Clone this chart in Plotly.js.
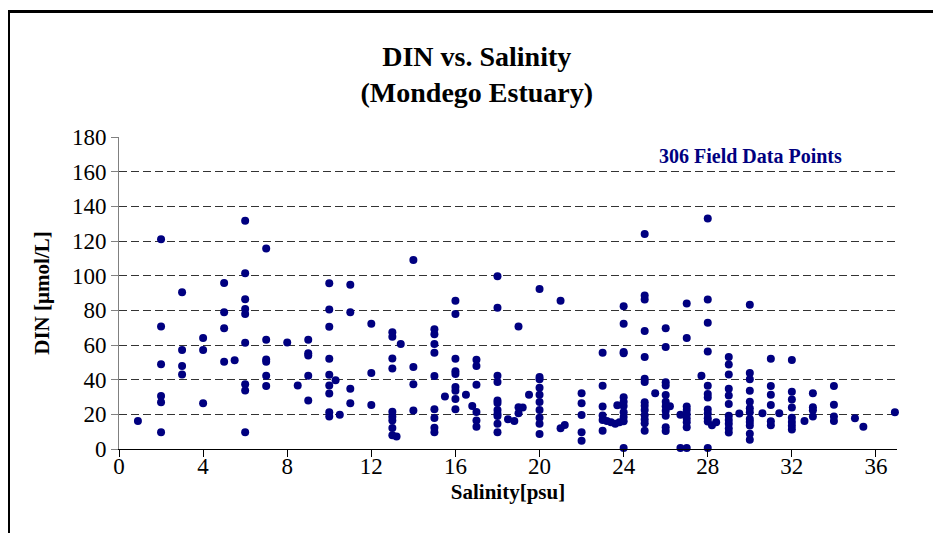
<!DOCTYPE html>
<html><head><meta charset="utf-8">
<script src="https://cdn.plot.ly/plotly-3.0.1.min.js"></script>
<style>
html,body{margin:0;padding:0;background:#fff;}
#wrap{position:relative;width:933px;height:533px;overflow:hidden;}
#chart{width:933px;height:533px;}
#frame{position:absolute;left:8px;top:10px;width:1000px;height:1000px;border-left:2px solid #000;border-top:3px solid #000;pointer-events:none;}
</style>
</head><body>
<div id="wrap"><div id="chart"></div><div id="frame"></div></div>
<script>
const salinity = [
 0.9,
 2,2,2,2,2,2,
 3,3,3,3,
 4,4,4,
 5,5,5,5,
 5.5,
 6,6,6,6,6,6,6,6,6,
 7,7,7,7,7,7,
 8,
 8.5,
 9,9,9,9,9,
 10,10,10,10,10,10,10,10,10,
 10.3,
 10.5,
 11,11,11,11,
 12,12,12,
 13,13,13,13,13,13,13,13,13,
 13.2,
 13.4,
 14,14,14,14,
 15,15,15,15,15,15,15,15,15,
 15.5,
 16,16,16,16,16,16,16,16,16,
 16.5,
 16.8,
 17,17,17,17,17,17,
 18,18,18,18,18,18,18,18,18,18,18,
 18.5,
 18.8,
 19,19,19,
 19.2,
 19.5,
 20,20,20,20,20,20,20,20,20,20,
 21,21,
 21.2,
 22,22,22,22,22,
 23,23,23,23,23,23,
 23.2,23.4,23.6,23.7,23.8,
 24,24,24,24,24,24,24,24,24,24,24,
 25,25,25,25,25,25,25,25,25,25,25,25,25,25,
 25.5,
 26,26,26,26,26,26,26,26,26,26,26,
 26.2,
 26.7,26.7,
 27,27,27,27,27,27,27,27,27,
 27.7,
 28,28,28,28,28,28,28,28,28,28,28,28,
 28.2,28.4,
 29,29,29,29,29,29,29,29,29,29,29,
 29.5,
 30,30,30,30,30,30,30,30,30,30,30,30,
 30.6,
 31,31,31,31,31,31,
 31.4,
 32,32,32,32,32,32,32,32,
 32.6,
 33,33,33,33,
 34,34,34,34,
 35,35.4,36.9
];
const din = [
 16.2,
 121,70.7,48.9,30.6,26.9,9.6,
 90.5,57.1,47.9,43,
 64,57.1,26.4,
 95.7,78.9,69.7,50.4,
 51.2,
 131.7,101.4,86.4,80.7,77.9,61.3,37.3,33.7,9.6,
 115.7,63,51.6,50.3,42.2,36.3,
 61.5,
 36.6,
 63,55.2,54,42.2,28,
 95.6,80.5,70.6,52,42.9,36.6,32,21.2,18.7,
 39.6,
 19.7,
 94.7,78.9,34.8,26.4,
 72.2,43.9,25.4,
 67.3,64.8,52.2,46.5,21.5,18.6,16.5,12.1,7.9,
 7.2,
 60.6,
 109,47.3,37.3,22.2,
 69.1,66.2,60.6,55.6,42.1,23,17.9,12.3,9.7,
 30.3,
 85.6,77.9,52.1,44.8,43.2,35.8,33.6,28.8,23,
 31.3,
 24.8,
 51.5,47.9,37.1,21.4,16.4,12.8,
 99.6,81.5,42.2,38.7,28,26.5,22.5,20.3,19,14.5,9.7,
 17.2,
 16.2,
 70.7,24.1,20.6,
 24,
 31.3,
 92.3,41.5,40.3,35.3,31.3,27.1,22.5,18,14.5,8.7,
 85.6,12,
 13.9,
 32.1,26.4,19.6,9.6,4.7,
 55.6,36.5,24.5,19.3,16.8,10.5,
 16.2,15.5,14.5,25.3,15.5,
 82.3,72.2,56,55.3,29.8,27.2,24.8,21.2,18.5,16,0.6,
 124,88.5,86.3,68.1,53.1,40.5,38.7,27,25,22.5,19.5,17,14.8,10.5,
 32.1,
 69.6,58.8,38.5,36.6,31.2,27.2,24.6,22,19.2,12.5,10.4,
 24.6,
 19.7,0.6,
 84,64,24.5,22.5,20,17.6,15.5,12.5,0.6,
 42.2,
 133,86.3,72.9,56.3,36.5,31.8,29.7,22.8,20.5,17.8,15.8,0.6,
 13.7,15.5,
 53.1,48.8,43,34.7,30.9,26,19.2,16.8,14.5,11.8,9.5,
 20.5,
 83.2,43.9,40.3,33.6,27.2,23.5,21.2,17.3,15.6,13.6,8.8,5.4,
 20.6,
 52.1,36.4,31.3,25.4,16,13.7,
 20.6,
 51.3,33,28.6,24,18,15.6,13.4,11.3,
 16.1,
 32.1,24.1,22.3,18.7,
 36.4,25.5,18.7,16.2,
 17.7,12.8,21.2
];
const chartTitle = '<b>DIN vs. Salinity</b><br><b>(Mondego Estuary)</b>';
const xTitle = '<b>Salinity[psu]</b>';
const yTitle = '<b>DIN [µmol/L]</b>';
const noteText = '<b>306 Field Data Points</b>';

const serif = 'Liberation Serif, Times New Roman, serif';
const trace = {
  x: salinity, y: din, type: 'scatter', mode: 'markers',
  marker: {color: '#000080', size: 8, line: {width: 0}},
  cliponaxis: false, hoverinfo: 'x+y'
};
const layout = {
  width: 933, height: 533,
  margin: {l: 119, r: 36, t: 137, b: 83.5, pad: 0},
  paper_bgcolor: '#fff', plot_bgcolor: '#fff',
  font: {family: serif, color: '#000'},
  showlegend: false,
  title: {text: chartTitle, font: {family: serif, size: 28, color: '#000'},
          x: 0.511, xref: 'container', xanchor: 'center',
          y: 0.876, yref: 'container', yanchor: 'top'},
  xaxis: {range: [0, 37], tick0: 0, dtick: 4, ticks: 'outside', ticklen: 7, tickcolor: '#000',
          ticklabelstandoff: -11,
          showline: true, linecolor: '#000', linewidth: 1, showgrid: false, zeroline: false,
          tickfont: {family: serif, size: 23, color: '#000'},
          title: {text: xTitle, font: {family: serif, size: 21, color: '#000'}, standoff: 6}},
  yaxis: {range: [0, 180], tick0: 0, dtick: 20, ticks: 'outside', ticklen: 7, tickcolor: '#808080',
          showline: true, linecolor: '#808080', linewidth: 1, showgrid: true, gridcolor: '#333',
          griddash: '8px,4px', gridwidth: 1, zeroline: false,
          tickfont: {family: serif, size: 23, color: '#000'},
          title: {text: yTitle, font: {family: serif, size: 21, color: '#000'}, standoff: 16}},
  annotations: [{text: noteText, xref: 'paper', yref: 'paper', x: 0.812, y: 0.939,
                 xanchor: 'center', yanchor: 'middle', showarrow: false,
                 font: {family: serif, size: 20, color: '#000080'}}]
};
Plotly.newPlot('chart', [trace], layout, {displayModeBar: false, staticPlot: true});
</script>
</body></html>
